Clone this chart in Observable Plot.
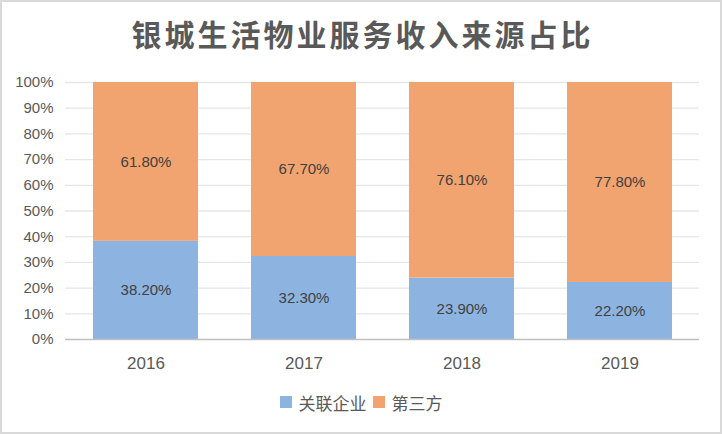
<!DOCTYPE html>
<html>
<head>
<meta charset="utf-8">
<script src="https://cdn.jsdelivr.net/npm/d3@7"></script>
<script src="https://cdn.jsdelivr.net/npm/@observablehq/plot@0.6"></script>
<style>
  html, body { margin: 0; padding: 0; background: #fff; }
  #chart {
    width: 722px; height: 434px; box-sizing: border-box;
    border: 2px solid #d9d9d9; overflow: hidden; background: #fff;
  }
  #title {
    height: 58px; line-height: 63px; text-align: center;
    font-family: "Noto Sans CJK SC", sans-serif; font-weight: bold;
    font-size: 30px; letter-spacing: 3px; color: #595959;
    white-space: nowrap; overflow: visible; padding-left: 3px;
  }
  #legend {
    display: flex; justify-content: center; align-items: center;
    height: 52px; margin-top: -4px;
    font-family: "Noto Sans CJK SC", sans-serif; font-size: 17px; color: #595959;
  }
  .sw { width: 12px; height: 12px; display: inline-block; margin-right: 7px; }
  .item { display: flex; align-items: center; margin: 0 3px; }
</style>
</head>
<body>
<div id="chart">
  <div id="title">银城生活物业服务收入来源占比</div>
  <div id="plot"></div>
  <div id="legend"></div>
</div>
<script>
const years = ["2016", "2017", "2018", "2019"];
const related = [38.2, 32.3, 23.9, 22.2];
const thirdParty = [61.8, 67.7, 76.1, 77.8];
const seriesNames = ["关联企业", "第三方"];
const seriesColors = ["#8db4e0", "#f1a46f"];
const yTicks = [0, 10, 20, 30, 40, 50, 60, 70, 80, 90, 100];

const data = [];
years.forEach((yr, i) => {
  data.push({year: yr, series: seriesNames[0], value: related[i]});
  data.push({year: yr, series: seriesNames[1], value: thirdParty[i]});
});

const chart = Plot.plot({
  width: 718,
  height: 320,
  marginTop: 22,
  marginBottom: 41,
  marginLeft: 63,
  marginRight: 21,
  style: {fontFamily: "'Liberation Sans', Arial, sans-serif", fontSize: "15px", color: "#595959", background: "#fff"},
  x: {domain: years, paddingInner: 0.3375, paddingOuter: 0.17, label: null},
  y: {domain: [0, 100], label: null},
  color: {domain: seriesNames, range: seriesColors},
  marks: [
    Plot.ruleY(yTicks.filter(d => d > 0), {stroke: "#e6e6e6", strokeWidth: 1.3}),
    Plot.barY(data, {x: "year", y: "value", fill: "series", order: seriesNames}),
    Plot.ruleY([0], {stroke: "#bfbfbf", strokeWidth: 1.5}),
    Plot.axisY({ticks: yTicks, tickFormat: d => d + "%", tickSize: 0, tickPadding: 12, fontSize: 15, fill: "#595959", label: null}),
    Plot.axisX({tickSize: 0, tickPadding: 17, fontSize: 17, fill: "#595959", label: null}),
    Plot.text(data, Plot.stackY({x: "year", y: "value", z: "series", order: seriesNames,
      text: d => d.value.toFixed(2) + "%", fill: "#404040", fontSize: 15}))
  ]
});
document.getElementById("plot").appendChild(chart);

const legend = document.getElementById("legend");
seriesNames.forEach((name, i) => {
  const item = document.createElement("span");
  item.className = "item";
  const sw = document.createElement("span");
  sw.className = "sw";
  sw.style.background = seriesColors[i];
  item.appendChild(sw);
  item.appendChild(document.createTextNode(name));
  legend.appendChild(item);
});
</script>
</body>
</html>
